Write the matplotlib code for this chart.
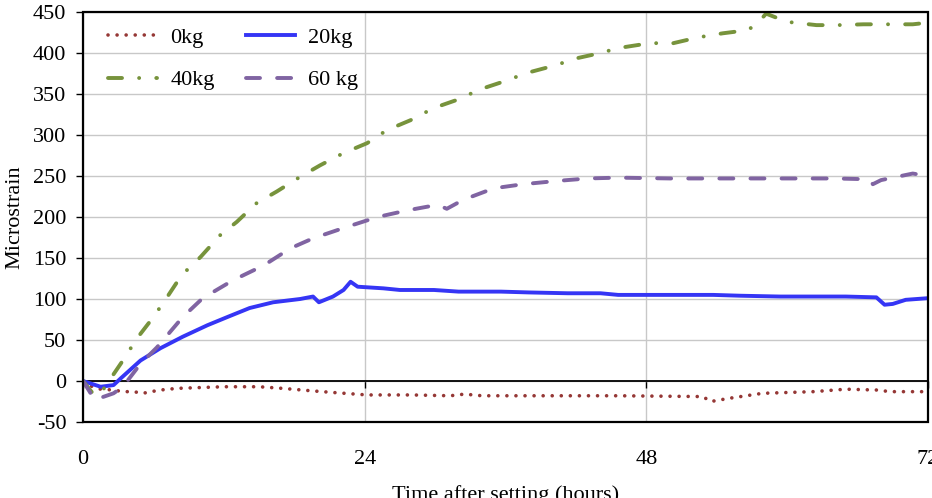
import matplotlib
matplotlib.use("Agg")
import matplotlib.pyplot as plt
from matplotlib.patches import Rectangle

plt.rcParams['font.family'] = ['Liberation Serif', 'DejaVu Serif']
plt.rcParams['axes.unicode_minus'] = False

# ---- data (hours, microstrain) ----
h_0kg = [0, 1.5, 2.6, 3.4, 4.3, 5.1, 5.8, 6.6, 8, 10, 12, 15, 17, 19.5, 21.3, 24.2,
         28, 31.3, 32.5, 34, 38.4, 45.6, 52.8, 53.5, 55.1, 57.9, 62.2, 65, 67.6, 68.8, 72]
v_0kg = [-3, -10, -11, -13, -13, -15, -13, -11, -9, -8, -7, -7, -9, -12, -14, -17,
         -17, -18, -16, -18, -18, -18, -19, -25, -21, -15, -13, -10, -11, -13, -13]

h_20kg = [0, 1.5, 2.6, 3.2, 4.9, 6.6, 8.5, 10.6, 12.3, 14.2, 16.2, 18.5, 19.6, 20.1, 21.3,
          22.2, 22.8, 23.4, 25.6, 27, 29.9, 32, 35.6, 38, 41.3, 44.1, 45.6, 53.7, 56,
          59.4, 65, 67.6, 68.3, 69, 70.1, 72]
v_20kg = [0, -7, -5, 3, 25, 40, 54, 68, 78, 89, 96, 100, 103, 96, 103,
          111, 121, 115, 113, 111, 111, 109, 109, 108, 107, 107, 105, 105, 104,
          103, 103, 102, 93, 94, 99, 101]

h_40kg = [0, 1.0, 1.5, 3.4, 4.6, 6, 7.2, 8.4, 10, 11.7, 13.1, 14.8, 16.5, 18.5, 20.2,
          22.2, 24.2, 25.9, 27.9, 29.9, 31.9, 33.9, 35.8, 37.9, 40, 42.2, 44.1, 45.6,
          48.3, 50.3, 52.4, 54.5, 56.7, 57.9, 58.2, 60, 62.5, 64.3, 66.5, 68.6, 70.7, 72]
v_40kg = [0, -18, -15, 25, 52, 78, 103, 129, 151, 178, 194, 217, 231, 249, 263,
          278, 290, 306, 318, 333, 343, 356, 365, 376, 384, 394, 400, 406,
          412, 412, 419, 424, 428, 443, 448, 438, 434, 434, 435, 435, 435, 437]

h_60kg = [0, 1.0, 2.6, 3.4, 4.9, 6.3, 8.5, 10.2, 12.8, 15.4, 17.7, 19.6, 22.5, 25.1, 27.6,
          29.5, 30.2, 31, 32.4, 35, 37.5, 40.4, 43, 45.6, 50, 55, 60, 64, 67, 67.3,
          68, 70.7, 72]
v_60kg = [0, -23, -15, -7, 21, 41, 78, 101, 123, 141, 162, 174, 188, 200, 208,
          213, 215, 210, 221, 235, 240, 244, 247, 248, 247, 247, 247, 247, 246, 240,
          245, 253, 250]

labels = ['0kg', '20kg', '40kg', '60 kg']
colors = ['#953735', '#3535F5', '#77933C', '#8064A2']
x_ticks = [0, 24, 48, 72]
y_ticks = list(range(-50, 451, 50))

fig = plt.figure(figsize=(9.32, 4.98), dpi=100)
ax = fig.add_axes([83/932, 1 - 422/498, (928 - 83)/932, (422 - 12)/498])

lw = 2.8
l0, = ax.plot(h_0kg, v_0kg, color=colors[0], lw=2.6, linestyle=(0, (0.01, 2.5)),
              dash_capstyle='round', label=labels[0], zorder=3)
l1, = ax.plot(h_20kg, v_20kg, color=colors[1], lw=lw, solid_joinstyle='round',
              label=labels[1], zorder=3)
l2, = ax.plot(h_40kg, v_40kg, color=colors[2], lw=lw,
              linestyle=(0, (3.6, 4.4, 0.01, 4.4)), dash_capstyle='round',
              label=labels[2], zorder=3)
l3, = ax.plot(h_60kg, v_60kg, color=colors[3], lw=lw, linestyle=(0, (3.6, 4.4)),
              dash_capstyle='round', label=labels[3], zorder=3)

ax.set_xlim(0, 72)
ax.set_ylim(-50, 450)
ax.set_xticks(x_ticks)
ax.set_yticks(y_ticks)

ax.grid(True, color='#c8c8c8', lw=1.0)
ax.set_axisbelow(True)

for s in ['top', 'right', 'left']:
    ax.spines[s].set_color('black')
    ax.spines[s].set_linewidth(1.3)
ax.spines['bottom'].set_position(('data', 0))
ax.spines['bottom'].set_linewidth(1.3)
ax.add_patch(Rectangle((0, 0), 1, 1, transform=ax.transAxes, fill=False,
                       edgecolor='black', lw=1.6, zorder=4, clip_on=False))

ax.tick_params(axis='y', direction='out', length=5, width=1.0, labelsize=16, pad=7)
ax.tick_params(axis='x', direction='out', length=5, width=1.0, labelsize=16, pad=45)

ax.set_xlabel('Time after setting (hours)', fontsize=16, labelpad=11)
ax.set_ylabel('Microstrain', fontsize=16, labelpad=6)

leg = ax.legend([l0, l2, l1, l3], [labels[0], labels[2], labels[1], labels[3]],
                ncol=2, loc='upper left', frameon=False, fontsize=16,
                handlelength=2.2, handletextpad=0.6, columnspacing=1.4,
                labelspacing=1.0, bbox_to_anchor=(0.006, 1.012), borderaxespad=0.5)

fig.savefig('out.png', dpi=100)
